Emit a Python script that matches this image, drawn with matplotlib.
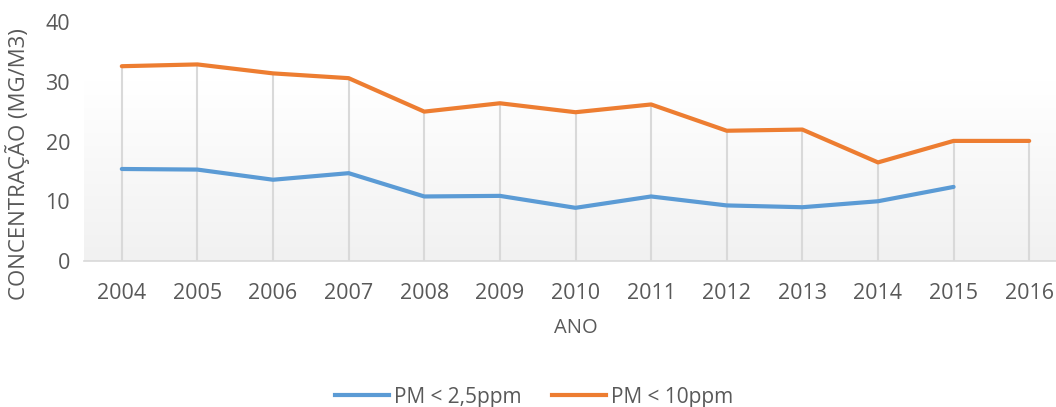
import matplotlib
matplotlib.use("Agg")
import matplotlib.pyplot as plt
import numpy as np
from matplotlib.lines import Line2D

years = ["2004", "2005", "2006", "2007", "2008", "2009", "2010", "2011",
         "2012", "2013", "2014", "2015", "2016"]
pm25 = [15.4, 15.3, 13.6, 14.7, 10.8, 10.9, 8.9, 10.8, 9.3, 9.0, 10.0, 12.4, None]
pm10 = [32.6, 32.9, 31.4, 30.6, 25.0, 26.4, 24.9, 26.2, 21.8, 22.0, 16.5, 20.1, 20.1]
series_names = ["PM < 2,5ppm", "PM < 10ppm"]
colors = ["#5B9BD5", "#ED7D31"]

plt.rcParams['font.family'] = ['Open Sans', 'DejaVu Sans']
W, H = 1056, 407
fig = plt.figure(figsize=(W / 100, H / 100), dpi=100)
left_px, right_px, top_px, bot_px = 84, 1067, 22, 261
ax = fig.add_axes([left_px / W, 1 - bot_px / H, (right_px - left_px) / W, (bot_px - top_px) / H])

x = np.arange(len(years))
ax.set_xlim(-0.5, len(years) - 0.5)
ax.set_ylim(0, 40)

# gradient background (white above ~30, light gray at bottom)
grad = np.ones((200, 1, 3))
vals = np.linspace(0, 1, 200)  # 0 bottom -> 1 top
for i, v in enumerate(vals):
    t = min(1.0, v / 0.75)
    c = 0.945 + (1.0 - 0.945) * t
    grad[i, 0, :] = c
ax.imshow(grad, extent=[-0.5, len(years) - 0.5, 0, 40], origin='lower', aspect='auto', zorder=0)

# drop lines
for xi, a, b in zip(x, pm25, pm10):
    top = max(v for v in (a, b) if v is not None)
    ax.vlines(xi, 0, top, color="#d9d9d9", linewidth=1.5, zorder=1)

y25 = np.array([np.nan if v is None else v for v in pm25], dtype=float)
y10 = np.array(pm10, dtype=float)
ax.plot(x, y25, color=colors[0], linewidth=3.0, solid_capstyle='round', solid_joinstyle='round', zorder=3)
ax.plot(x, y10, color=colors[1], linewidth=3.0, solid_capstyle='round', solid_joinstyle='round', zorder=3)

for s in ['top', 'right', 'left']:
    ax.spines[s].set_visible(False)
ax.spines['bottom'].set_color("#d9d9d9")
ax.spines['bottom'].set_linewidth(1.2)
ax.set_xticks(x)
ax.set_xticklabels(years)
ax.set_yticks([0, 10, 20, 30, 40])
ax.tick_params(axis='both', length=0, labelsize=15.5, labelcolor="#595959")
ax.tick_params(axis='x', pad=16)
ax.tick_params(axis='y', pad=10)

fig.text(18 / W, 1 - 164 / H, "CONCENTRAÇÃO (MG/M3)", rotation=90, ha='center', va='center',
         fontsize=16, color="#595959")
fig.text(576 / W, 1 - 328 / H, "ANO", ha='center', va='center', fontsize=14.5, color="#595959")

handles = [Line2D([0], [0], color=c, linewidth=3.0) for c in colors]
fig.legend(handles, series_names, loc='center', bbox_to_anchor=(534 / W, 1 - 397 / H), ncol=2,
           frameon=False, fontsize=15, labelcolor="#595959", handlelength=2.6,
           handletextpad=0.2, columnspacing=1.5)

fig.savefig("out.png", dpi=100)
